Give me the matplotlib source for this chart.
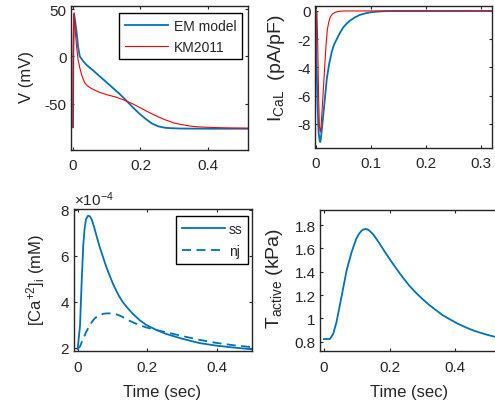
import numpy as np
import matplotlib
matplotlib.use("Agg")
import matplotlib.pyplot as plt
from matplotlib.ticker import FormatStrFormatter, ScalarFormatter

# action potential (mV) vs time (s)
t_em = [0, 0.001, 0.003, 0.006, 0.0107, 0.015, 0.02, 0.03, 0.04, 0.06, 0.079, 0.098, 0.117,
        0.136, 0.156, 0.175, 0.195, 0.215, 0.234, 0.253, 0.273, 0.295, 0.32, 0.36, 0.42, 0.52]
v_em = [-75, 10, 45, 38, 25, 10, 0, -5, -9, -15, -21, -27, -33, -39, -46, -53, -60, -66,
        -71, -74, -75.5, -76, -76.3, -76.4, -76.5, -76.5]
t_km = [0, 0.001, 0.003, 0.006, 0.01, 0.015, 0.02, 0.025, 0.03, 0.035, 0.042, 0.05, 0.06,
        0.079, 0.1, 0.127, 0.15, 0.176, 0.2, 0.224, 0.25, 0.273, 0.3, 0.32, 0.35, 0.37, 0.42,
        0.47, 0.52]
v_km = [-75, 0, 46, 30, 12, -3.5, -12, -19, -24, -28, -31, -33, -35, -38, -40.5, -43, -46,
        -50, -54.5, -59, -63.5, -67, -70.5, -72, -73.8, -74.5, -75.3, -75.7, -75.9]

# L-type calcium current (pA/pF)
t_ical_em = [0, 0.0005, 0.001, 0.003, 0.005, 0.007, 0.008, 0.009, 0.011, 0.014, 0.017, 0.02,
             0.024, 0.029, 0.033, 0.038, 0.044, 0.05, 0.056, 0.062, 0.07, 0.08, 0.09, 0.099,
             0.11, 0.123, 0.14, 0.32]
ical_em = [0, -0.5, -3.2, -6.5, -8.6, -9.2, -9.3, -9.1, -8.4, -7.2, -6.0, -4.8, -3.8, -2.9,
           -2.4, -2.0, -1.55, -1.16, -0.9, -0.69, -0.48, -0.28, -0.17, -0.1, -0.05, -0.02,
           -0.005, 0]
t_ical_km = [0, 0.002, 0.0035, 0.005, 0.0065, 0.008, 0.0095, 0.011, 0.0127, 0.015, 0.017,
             0.019, 0.021, 0.0235, 0.026, 0.03, 0.035, 0.042, 0.05, 0.32]
ical_km = [0, -0.1, -2.5, -6.0, -8.2, -8.6, -8.2, -7.3, -6.2, -4.7, -3.4, -2.2, -1.3, -0.8,
           -0.45, -0.22, -0.1, -0.03, 0, 0]

# intracellular calcium (mM)
t_ca = [0, 0.0067, 0.0114, 0.016, 0.02, 0.024, 0.03, 0.035, 0.04, 0.047, 0.054, 0.063, 0.073,
        0.082, 0.092, 0.101, 0.111, 0.12, 0.13, 0.145, 0.159, 0.178, 0.197, 0.225, 0.254,
        0.28, 0.302, 0.35, 0.397, 0.45, 0.52]
ca_ss = [1.94, 2.96, 4.85, 6.45, 7.2, 7.6, 7.75, 7.72, 7.6, 7.27, 6.88, 6.4, 5.94, 5.53,
         5.14, 4.8, 4.48, 4.22, 3.98, 3.7, 3.47, 3.2, 2.99, 2.78, 2.6, 2.48, 2.38, 2.2,
         2.09, 2.0, 1.9]
ca_nj = [1.94, 2.05, 2.23, 2.4, 2.52, 2.67, 2.84, 2.97, 3.1, 3.24, 3.34, 3.42, 3.47, 3.49,
         3.49, 3.48, 3.45, 3.4, 3.33, 3.2, 3.1, 2.98, 2.88, 2.77, 2.67, 2.58, 2.5, 2.34,
         2.21, 2.1, 1.99]
ca_ss = np.array(ca_ss) * 1e-4
ca_nj = np.array(ca_nj) * 1e-4

# active tension (kPa)
t_ta = [0, 0.018, 0.028, 0.038, 0.046, 0.054, 0.062, 0.069, 0.077, 0.084, 0.092, 0.099, 0.107,
        0.114, 0.12, 0.127, 0.133, 0.139, 0.15, 0.16, 0.17, 0.18, 0.19, 0.2, 0.215, 0.23, 0.245,
        0.26, 0.28, 0.3, 0.32, 0.341, 0.36, 0.382, 0.405, 0.432, 0.455, 0.483, 0.5, 0.53]
tact = [0.823, 0.823, 0.866, 0.966, 1.08, 1.194, 1.31, 1.41, 1.495, 1.566, 1.632, 1.686,
        1.726, 1.75, 1.762, 1.766, 1.762, 1.75, 1.72, 1.68, 1.638, 1.594, 1.551, 1.509,
        1.448, 1.389, 1.333, 1.28, 1.22, 1.166, 1.116, 1.071, 1.03, 0.994, 0.958, 0.923,
        0.896, 0.871, 0.857, 0.835]

blue = "#0072BD"
red = "#FF0000"
ink = "#262626"

plt.rcParams["font.family"] = ["Liberation Sans", "DejaVu Sans"]
plt.rcParams["font.size"] = 11
plt.rcParams["axes.labelsize"] = 12
plt.rcParams["mathtext.fontset"] = "custom"
plt.rcParams["mathtext.rm"] = "Liberation Sans"
plt.rcParams["mathtext.it"] = "Liberation Sans"
plt.rcParams["axes.unicode_minus"] = False
plt.rcParams["text.color"] = ink
plt.rcParams["axes.labelcolor"] = ink
plt.rcParams["axes.edgecolor"] = ink
plt.rcParams["xtick.color"] = ink
plt.rcParams["ytick.color"] = ink

fig = plt.figure(figsize=(4.95, 4.06), dpi=100)
ax1 = fig.add_axes([0.1428, 0.6281, 0.3582, 0.3539])
ax2 = fig.add_axes([0.6358, 0.6337, 0.3588, 0.3483])
ax3 = fig.add_axes([0.1495, 0.1323, 0.3596, 0.3505])
ax4 = fig.add_axes([0.6465, 0.1323, 0.3596, 0.3480])

for ax in (ax1, ax2, ax3, ax4):
    ax.tick_params(direction="in", top=True, right=True, length=2.5, width=0.8,
                   pad=3, labelsize=11)
    ax.tick_params(axis="x", pad=6)
    for s in ax.spines.values():
        s.set_linewidth(1.0)

# membrane potential
ax1.plot(t_em, v_em, color=blue, lw=1.3, label="EM model")
ax1.plot(t_km, v_km, color=red, lw=0.8, label="KM2011")
ax1.set_xlim(-0.007, 0.519)
ax1.set_ylim(-99, 53)
ax1.set_xticks([0, 0.2, 0.4])
ax1.set_yticks([-50, 0, 50])
ax1.xaxis.set_major_formatter(FormatStrFormatter("%g"))
ax1.set_ylabel("V (mV)")
ax1.yaxis.set_label_coords(-0.207, 0.518)
lg = ax1.legend(loc="upper right", bbox_to_anchor=(0.9645, 0.951), borderaxespad=0,
                fancybox=False, edgecolor="black", framealpha=1, handlelength=3.1,
                labelspacing=0.5, borderpad=0.4, handletextpad=0.4, fontsize=10)
lg.get_frame().set_linewidth(1.0)

# L-type calcium current
ax2.plot(t_ical_em, ical_em, color=blue, lw=1.3)
ax2.plot(t_ical_km, ical_km, color=red, lw=0.8)
ax2.set_xlim(-0.002, 0.321)
ax2.set_ylim(-9.7, 0.33)
ax2.set_xticks([0, 0.1, 0.2, 0.3])
ax2.set_yticks([-8, -6, -4, -2, 0])
ax2.xaxis.set_major_formatter(FormatStrFormatter("%g"))
ax2.set_ylabel(r"I$_{\rm CaL}$  (pA/pF)", fontsize=14)
ax2.yaxis.set_label_coords(-0.156, 0.567)

# calcium transient
ax3.plot(t_ca, ca_ss, color=blue, lw=1.3, label="ss")
ax3.plot(t_ca, ca_nj, color=blue, lw=1.3, ls=(0, (5, 3)), label="nj")
ax3.set_xlim(-0.0106, 0.5016)
ax3.set_ylim(1.84e-4, 8.04e-4)
ax3.set_xticks([0, 0.2, 0.4])
ax3.set_yticks([2e-4, 4e-4, 6e-4, 8e-4])
ax3.xaxis.set_major_formatter(FormatStrFormatter("%g"))
fmt = ScalarFormatter(useMathText=True)
fmt.set_powerlimits((0, 0))
ax3.yaxis.set_major_formatter(fmt)
ax3.yaxis.get_offset_text().set_fontsize(11)
ax3.set_ylabel(r"[Ca$^{+2}$]$_{\rm i}$ (mM)")
ax3.yaxis.set_label_coords(-0.152, 0.505)
ax3.set_xlabel("Time (sec)")
ax3.xaxis.set_label_coords(0.497, -0.231)
lg = ax3.legend(loc="upper right", bbox_to_anchor=(0.979, 0.949), borderaxespad=0,
                fancybox=False, edgecolor="black", framealpha=1, handlelength=3.1,
                labelspacing=0.6, borderpad=0.4, handletextpad=0.3, fontsize=10)
lg.get_frame().set_linewidth(1.0)

# active tension
ax4.plot(t_ta, tact, color=blue, lw=1.3)
ax4.set_xlim(-0.012, 0.53)
ax4.set_ylim(0.718, 1.929)
ax4.set_xticks([0, 0.2, 0.4])
ax4.set_yticks([0.8, 1.0, 1.2, 1.4, 1.6, 1.8])
ax4.xaxis.set_major_formatter(FormatStrFormatter("%g"))
ax4.yaxis.set_major_formatter(FormatStrFormatter("%g"))
ax4.set_ylabel(r"T$_{\rm active}$ (kPa)", fontsize=14)
ax4.yaxis.set_label_coords(-0.197, 0.519)
ax4.set_xlabel("Time (sec)")
ax4.xaxis.set_label_coords(0.5, -0.231)

fig.savefig("out.png", dpi=100)
